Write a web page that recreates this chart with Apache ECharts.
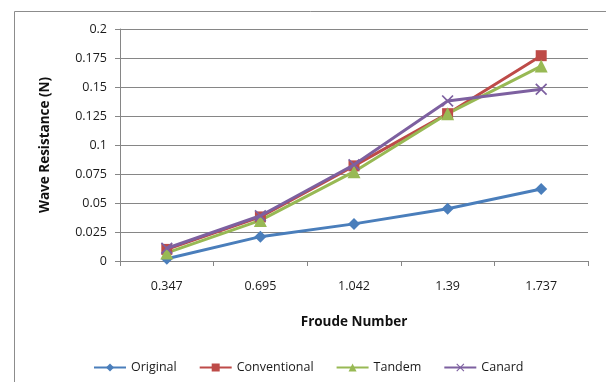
<!DOCTYPE html>
<html><head><meta charset="utf-8">
<script src="https://cdn.jsdelivr.net/npm/echarts@6/dist/echarts.min.js"></script>
<style>html,body{margin:0;padding:0;background:#fff}#c{width:606px;height:382px}</style>
</head><body><div id="c"></div>
<script>
const categories = ['0.347', '0.695', '1.042', '1.39', '1.737'];
const original = [0.002, 0.021, 0.032, 0.045, 0.062];
const conventional = [0.010, 0.038, 0.082, 0.127, 0.177];
const tandem = [0.007, 0.035, 0.077, 0.127, 0.168];
const canard = [0.011, 0.039, 0.083, 0.138, 0.148];
const seriesNames = ['Original', 'Conventional', 'Tandem', 'Canard'];

const FONT = '"Open Sans", "Liberation Sans", sans-serif';
const crossPath = 'path://M0,1L1,0L5,4L9,0L10,1L6,5L10,9L9,10L5,6L1,10L0,9L4,5Z';
const colors = ['#4A7EBB', '#BE4B48', '#98B954', '#7D60A0'];
const symbols = ['diamond', 'rect', 'triangle', crossPath];
const sizes = [12, 11, 13, 12];
const datas = [original, conventional, tandem, canard];

const chart = echarts.init(document.getElementById('c'), null, {renderer: 'canvas'});
chart.setOption({
  animation: false,
  backgroundColor: '#fff',
  textStyle: {fontFamily: FONT},
  graphic: [{
    type: 'rect', shape: {x: 14.5, y: 11.5, width: 600, height: 400},
    style: {fill: 'none', stroke: '#8c8c8c', lineWidth: 1}, silent: true, z: -1
  }],
  grid: {left: 120, right: 18, top: 29, bottom: 121},
  legend: {
    left: 88, top: 356, itemWidth: 32, itemHeight: 10, itemGap: 22,
    textStyle: {fontFamily: FONT, fontSize: 12.5, color: '#1a1a1a'},
    data: seriesNames
  },
  xAxis: {
    type: 'category', data: categories, boundaryGap: true,
    name: 'Froude Number', nameLocation: 'middle', nameGap: 54,
    nameTextStyle: {fontFamily: FONT, fontWeight: 'bold', fontSize: 13.5, color: '#111'},
    axisLine: {lineStyle: {color: '#868686', width: 1}},
    axisTick: {show: true, length: 5, lineStyle: {color: '#868686'}},
    axisLabel: {margin: 19, fontSize: 12.5, color: '#1a1a1a', fontFamily: FONT},
    splitLine: {show: false}
  },
  yAxis: {
    type: 'value', min: 0, max: 0.2, interval: 0.025,
    name: 'Wave Resistance (N)', nameLocation: 'middle', nameGap: 68, nameRotate: 90,
    nameTextStyle: {fontFamily: FONT, fontWeight: 'bold', fontSize: 13.5, color: '#111'},
    axisLine: {show: true, lineStyle: {color: '#868686', width: 1}},
    axisTick: {show: true, length: 5, lineStyle: {color: '#868686'}},
    axisLabel: {margin: 13, fontSize: 12.5, color: '#1a1a1a', fontFamily: FONT},
    splitLine: {show: true, lineStyle: {color: '#868686', width: 1}}
  },
  series: seriesNames.map((n, i) => ({
    name: n, type: 'line', data: datas[i],
    symbol: symbols[i], symbolSize: sizes[i], showAllSymbol: true,
    lineStyle: {color: colors[i], width: 3},
    itemStyle: {color: colors[i]},
    z: 2 + (i === 3 ? 1 : 0)
  }))
});
</script></body></html>
